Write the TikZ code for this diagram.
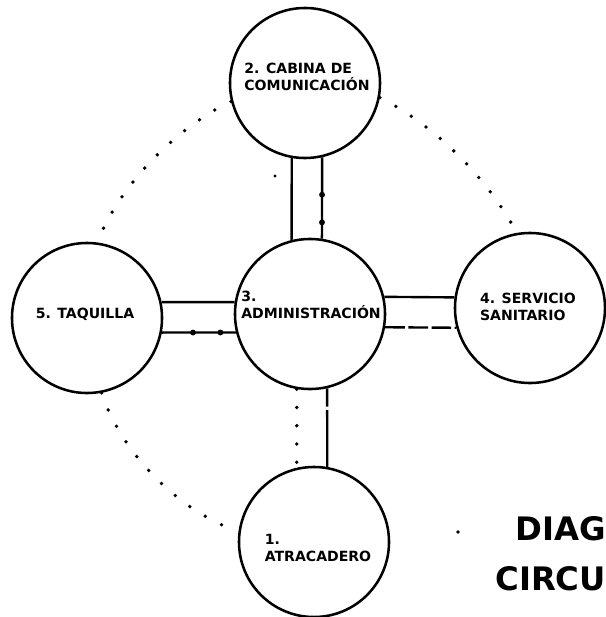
\documentclass[tikz,border=0pt]{standalone}
\usepackage{fontspec}
\setmainfont{DejaVu Sans}
\usetikzlibrary{calc}

\tikzset{
  station/.style={circle, draw, line width=1.8pt, minimum size=3.75cm, inner sep=0pt},
  stationtext/.style={align=left, inner sep=0pt, font=\bfseries\fontsize{10}{12.5}\selectfont},
  flow/.style={line width=1.7pt},
  dashflow/.style={line width=1.7pt, dash pattern=on 14pt off 2.5pt},
  longdashflow/.style={line width=1.7pt, dash pattern=on 13pt off 2.5pt on 60pt off 2.5pt},
  dotflow/.style={line width=2.7pt, line cap=round, dash pattern=on 0pt off 13pt},
  dotmark/.style={circle, fill, inner sep=0pt, minimum size=4.2pt},
  titletext/.style={inner sep=0pt, anchor=base west, font=\bfseries\fontsize{23}{27}\selectfont},
}

\begin{document}
\begin{tikzpicture}[x=0.025cm, y=-0.025cm]
  \useasboundingbox (0,0) rectangle (605,617);

  %zonas
  \node[station] (C1) at (314,542) {};
  \node[station] (C2) at (305,83) {};
  \node[station] (C3) at (310,314) {};
  \node[station] (C4) at (530,308) {};
  \node[station] (C5) at (87,318) {};

  \node[stationtext] (T1) at (318,548) {1.\\ATRACADERO};
  \node[stationtext] (T2) at (307,77) {2. CABINA DE\\COMUNICACIÓN};
  \node[stationtext] (T3) at (311,305) {3.\\ADMINISTRACIÓN};
  \node[stationtext] (T4) at (528,307) {4. SERVICIO\\SANITARIO};
  \node[stationtext] (T5) at (85,314) {5. TAQUILLA};

  %cabina - administracion
  \draw[flow] (C2.-100) -- (C3.104);
  \draw[flow] (C2.-77) -- (C3.81)
    node[dotmark, pos=0.46] (M1) {}
    node[dotmark, pos=0.80] (M2) {};

  %taquilla - administracion
  \draw[flow] (C5.12) -- (C3.171);
  \draw[flow] (C5.-11) -- (C3.194)
    node[dotmark, pos=0.42] (M3) {}
    node[dotmark, pos=0.79] (M4) {};

  %administracion - servicio
  \draw[flow] (C3.13) -- (C4.172);
  \draw[dashflow] (C3.-10) -- (C4.195);

  %administracion - atracadero
  \draw[dotflow] (C3.-100) -- (C1.103);
  \draw[longdashflow] (C3.-77) -- (C1.80);

  %recorridos
  \draw[dotflow] (C2.194) .. controls +(-55,26) and +(20,-55) .. (C5.82);
  \draw[dotflow] (C2.-11) .. controls +(55,28) and +(-30,-56) .. (C4.100);
  \draw[dotflow] (C5.281) .. controls +(20,60) and +(-60,-20) .. (C1.172);
  \fill (275,176) circle (1.2pt);
  \fill (458,532) circle (1.3pt);

  %titulo
  \node[titletext] (D1) at (515,540) {DIAG};
  \node[titletext] (D2) at (495,590) {CIRCU};
\end{tikzpicture}
\end{document}
